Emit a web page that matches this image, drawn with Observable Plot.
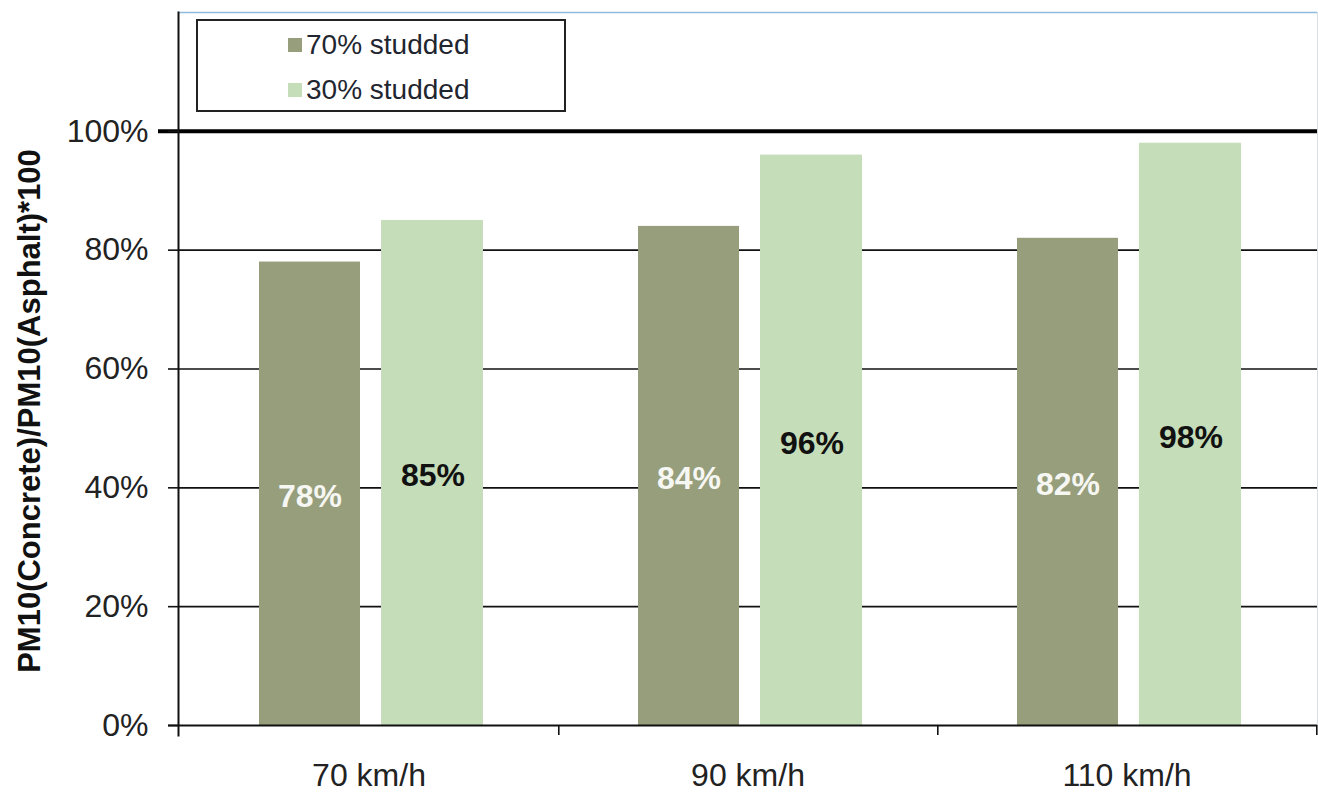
<!DOCTYPE html>
<html>
<head>
<meta charset="utf-8">
<script src="https://cdn.jsdelivr.net/npm/d3@7"></script>
<script src="https://cdn.jsdelivr.net/npm/@observablehq/plot@0.6"></script>
<style>
  html, body { margin: 0; padding: 0; background: #fff; }
  #wrap { position: relative; width: 1318px; height: 794px; font-family: "Liberation Sans", Arial, sans-serif; }
  #legend { position: absolute; left: 196px; top: 19px; width: 370px; height: 93px; box-sizing: border-box; border: 2px solid #222; background: #fff; }
  .item { position: absolute; left: 90px; height: 32px; display: flex; align-items: center; font-size: 28px; color: #1f2630; white-space: nowrap; }
  .sw { width: 14px; height: 14px; margin-right: 4px; display: inline-block; }
</style>
</head>
<body>
<div id="wrap"></div>
<script>
const speeds = ["70 km/h", "90 km/h", "110 km/h"];
const seriesNames = ["70% studded", "30% studded"];
const studded70 = [78, 84, 82];
const studded30 = [85, 96, 98];
const seriesColors = ["#979e7c", "#c5ddb8"];
const yTicks = [0, 20, 40, 60, 80, 100];
const gridValues = [20, 40, 60, 80];
const yLabel = "PM10(Concrete)/PM10(Asphalt)*100";

const rows70 = speeds.map((s, i) => ({speed: s, series: seriesNames[0], value: studded70[i]}));
const rows30 = speeds.map((s, i) => ({speed: s, series: seriesNames[1], value: studded30[i]}));

const font = "Liberation Sans, Arial, sans-serif";

const chart = Plot.plot({
  width: 1318,
  height: 794,
  marginLeft: 178,
  marginRight: 1,
  marginTop: 12,
  marginBottom: 69,
  style: {fontFamily: font, background: "#fff", color: "#222"},
  x: {domain: speeds, padding: 0, axis: null},
  y: {domain: [0, 120], axis: null},
  color: {domain: seriesNames, range: seriesColors},
  marks: [
    Plot.ruleY([120], {stroke: "#8fbbdc", strokeWidth: 1.5}),
    Plot.frame({anchor: "right", stroke: "#d8dde2", strokeWidth: 1}),
    Plot.ruleY(gridValues, {stroke: "#111", strokeWidth: 1.6}),
    Plot.barY(rows70, {x: "speed", y: "value", fill: "series", insetLeft: 80, insetRight: 198}),
    Plot.barY(rows30, {x: "speed", y: "value", fill: "series", insetLeft: 202, insetRight: 75}),
    Plot.text(rows70, {x: "speed", y: d => d.value / 2, text: d => d.value + "%", dx: -59, dy: 3,
      fill: "#f6f6f2", fontWeight: "bold", fontSize: 32}),
    Plot.text(rows30, {x: "speed", y: d => d.value / 2, text: d => d.value + "%", dx: 64, dy: 3,
      fill: "#111", fontWeight: "bold", fontSize: 32}),
    Plot.ruleY([100], {stroke: "#000", strokeWidth: 4, insetLeft: -20}),
    Plot.ruleY([0], {stroke: "#111", strokeWidth: 2, insetLeft: -10}),
    Plot.frame({anchor: "left", stroke: "#111", strokeWidth: 2, insetBottom: -10}),
    Plot.axisY({ticks: yTicks, tickSize: 10, tickPadding: 20, tickFormat: d => d + "%",
      fontSize: 32, stroke: "#111", strokeWidth: 1.6, label: null, fill: "#222"}),
    Plot.axisX({tickSize: 0, tickPadding: 38, fontSize: 32, label: null, fill: "#222"}),
    Plot.axisX({tickSize: 10, tickFormat: () => "", dx: 189.8, stroke: "#111", strokeWidth: 1.6, label: null}),
    Plot.text([yLabel], {frameAnchor: "left", textAnchor: "middle", lineAnchor: "middle", rotate: -90,
      dx: -148, dy: 42, fontWeight: "bold", fontSize: 31, fill: "#111"})
  ]
});

const wrap = document.getElementById("wrap");
wrap.appendChild(chart);

const legend = document.createElement("div");
legend.id = "legend";
seriesNames.forEach((name, i) => {
  const item = document.createElement("div");
  item.className = "item";
  item.style.top = (i === 0 ? 8 : 53) + "px";
  const sw = document.createElement("span");
  sw.className = "sw";
  sw.style.background = seriesColors[i];
  item.appendChild(sw);
  item.appendChild(document.createTextNode(name));
  legend.appendChild(item);
});
wrap.appendChild(legend);
</script>
</body>
</html>
